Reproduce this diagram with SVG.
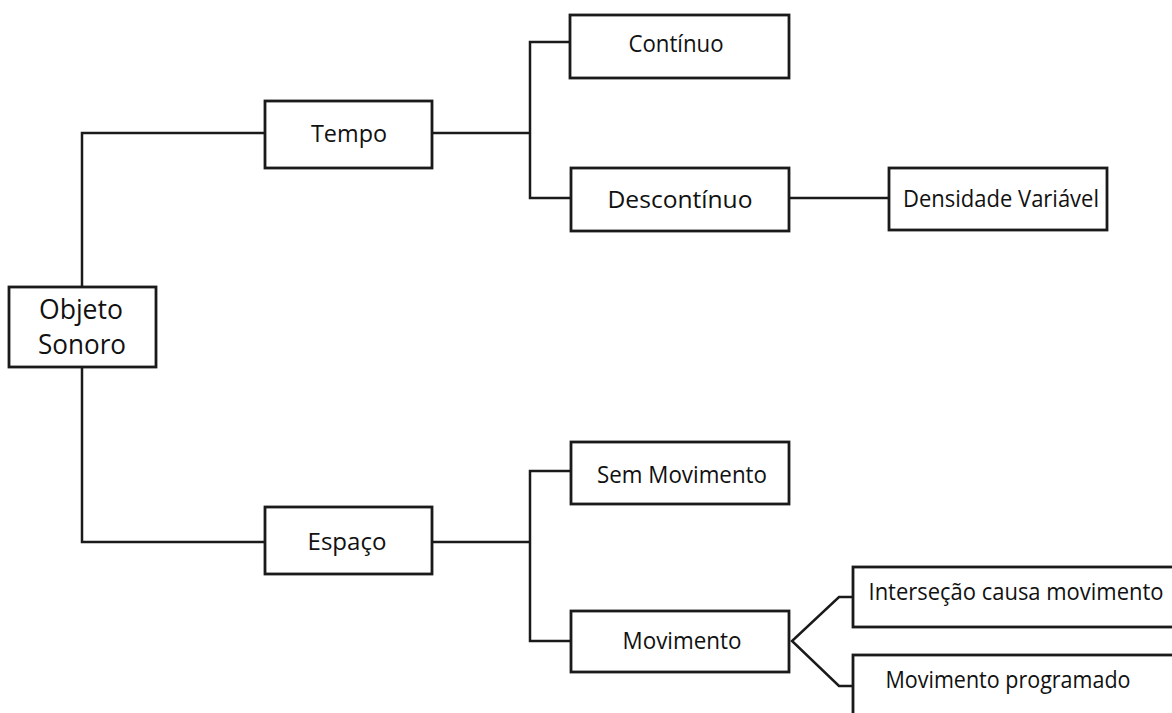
<svg xmlns="http://www.w3.org/2000/svg" width="1172" height="713" viewBox="0 0 1172 713">
  <style>
    .box { fill: #ffffff; stroke: #1a1a1a; stroke-width: 2.8; }
    .link { fill: none; stroke: #1a1a1a; stroke-width: 2.5; }
    .label { font-family: "Open Sans", "Noto Sans", sans-serif; font-size: 24px; fill: #111111; text-anchor: middle; }
    .big { font-size: 27px; }
  </style>
  <rect width="1172" height="713" fill="#ffffff"/>

  <!-- connectors -->
  <g id="connectors">
    <!-- root to Tempo / Espaço -->
    <polyline class="link" points="265,133 82,133 82,287"/>
    <polyline class="link" points="82,367 82,542 265,542"/>
    <!-- Tempo to Contínuo / Descontínuo -->
    <line class="link" x1="432" y1="133" x2="530" y2="133"/>
    <polyline class="link" points="570,42 530,42 530,198 571,198"/>
    <!-- Descontínuo to Densidade Variável -->
    <line class="link" x1="789" y1="198" x2="889" y2="198"/>
    <!-- Espaço to Sem Movimento / Movimento -->
    <line class="link" x1="432" y1="542" x2="530" y2="542"/>
    <polyline class="link" points="571,471 530,471 530,641 571,641"/>
    <!-- Movimento fork -->
    <polyline class="link" points="853,597 839,597 792,641 839,686 853,686"/>
  </g>

  <g id="node-objeto">
    <rect class="box" x="9" y="287" width="147" height="80"/>
    <text class="label big" x="81" y="319" textLength="84" lengthAdjust="spacingAndGlyphs">Objeto</text>
    <text class="label big" x="82" y="354" textLength="88" lengthAdjust="spacingAndGlyphs">Sonoro</text>
  </g>

  <g id="node-tempo">
    <rect class="box" x="265" y="101" width="167" height="67"/>
    <text class="label" x="349" y="142" textLength="76" lengthAdjust="spacingAndGlyphs">Tempo</text>
  </g>

  <g id="node-continuo">
    <rect class="box" x="570" y="15" width="219" height="63"/>
    <text class="label" x="676" y="52" textLength="95" lengthAdjust="spacingAndGlyphs">Contínuo</text>
  </g>

  <g id="node-descontinuo">
    <rect class="box" x="571" y="168" width="218" height="63"/>
    <text class="label" x="680" y="208" textLength="145" lengthAdjust="spacingAndGlyphs">Descontínuo</text>
  </g>

  <g id="node-densidade">
    <rect class="box" x="889" y="168" width="218" height="62"/>
    <text class="label" x="1001" y="207" textLength="196" lengthAdjust="spacingAndGlyphs">Densidade Variável</text>
  </g>

  <g id="node-espaco">
    <rect class="box" x="265" y="507" width="167" height="67"/>
    <text class="label" x="347" y="550" textLength="79" lengthAdjust="spacingAndGlyphs">Espaço</text>
  </g>

  <g id="node-sem-movimento">
    <rect class="box" x="571" y="442" width="218" height="62"/>
    <text class="label" x="682" y="483" textLength="170" lengthAdjust="spacingAndGlyphs">Sem Movimento</text>
  </g>

  <g id="node-movimento">
    <rect class="box" x="571" y="611" width="218" height="61"/>
    <text class="label" x="682" y="649" textLength="119" lengthAdjust="spacingAndGlyphs">Movimento</text>
  </g>

  <g id="node-intersecao">
    <rect class="box" x="853" y="567" width="330" height="60"/>
    <text class="label" x="1016" y="600" textLength="295" lengthAdjust="spacingAndGlyphs">Interseção causa movimento</text>
  </g>

  <g id="node-programado">
    <rect class="box" x="853" y="655" width="330" height="70"/>
    <text class="label" x="1008" y="688" textLength="245" lengthAdjust="spacingAndGlyphs">Movimento programado</text>
  </g>
</svg>
